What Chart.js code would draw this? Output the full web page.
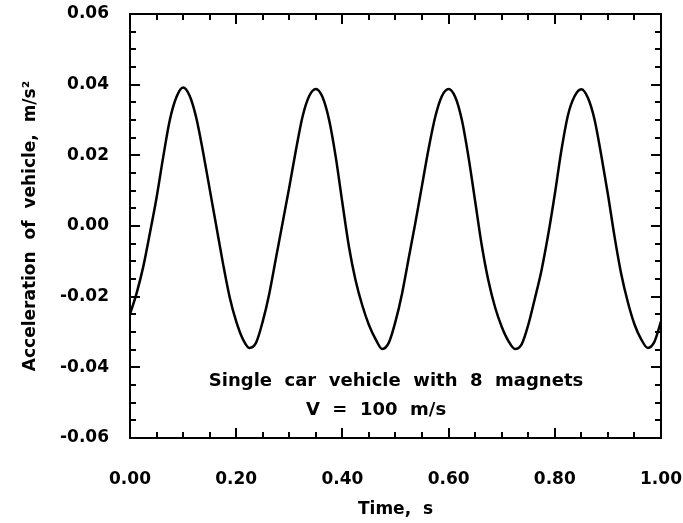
<!DOCTYPE html>
<html>
<head>
<meta charset="utf-8">
<title>Acceleration of vehicle</title>
<script src="https://cdn.jsdelivr.net/npm/chart.js@4/dist/chart.umd.min.js"></script>
<style>
    html, body { margin: 0; padding: 0; background: #fff; }
    canvas { display: block; }
</style>
</head>
<body>
<canvas id="chart" width="683" height="523"></canvas>
<script>
// time, s
var times = [
    0, 0.0125, 0.025, 0.0375, 0.05, 0.0625, 0.075, 0.0875, 0.1, 0.1125,
    0.125, 0.1375, 0.15, 0.1625, 0.175, 0.1875, 0.2, 0.2125, 0.225, 0.2375,
    0.25, 0.2625, 0.275, 0.2875, 0.3, 0.3125, 0.325, 0.3375, 0.35, 0.3625,
    0.375, 0.3875, 0.4, 0.4125, 0.425, 0.4375, 0.45, 0.4625, 0.475, 0.4875,
    0.5, 0.5125, 0.525, 0.5375, 0.55, 0.5625, 0.575, 0.5875, 0.6, 0.6125,
    0.625, 0.6375, 0.65, 0.6625, 0.675, 0.6875, 0.7, 0.7125, 0.725, 0.7375,
    0.75, 0.7625, 0.775, 0.7875, 0.8, 0.8125, 0.825, 0.8375, 0.85, 0.8625,
    0.875, 0.8875, 0.9, 0.9125, 0.925, 0.9375, 0.95, 0.9625, 0.975, 0.9875,
    1.0
];

// acceleration of vehicle, m/s^2
var accel = [
    -0.025, -0.019, -0.0115, -0.002, 0.008, 0.0195, 0.030, 0.0365, 0.0392, 0.0368,
    0.0305, 0.021, 0.0105, 0.000, -0.0105, -0.020, -0.027, -0.032, -0.0345, -0.033,
    -0.027, -0.019, -0.009, 0.001, 0.011, 0.0215, 0.031, 0.0368, 0.0388, 0.0365,
    0.030, 0.0195, 0.0065, -0.006, -0.0155, -0.0225, -0.028, -0.032, -0.0348, -0.033,
    -0.027, -0.019, -0.009, 0.001, 0.0115, 0.022, 0.031, 0.0368, 0.0388, 0.0365,
    0.030, 0.0195, 0.007, -0.0055, -0.0155, -0.023, -0.0285, -0.0325, -0.0348, -0.0335,
    -0.028, -0.0205, -0.0125, -0.0025, 0.009, 0.0215, 0.0315, 0.0368, 0.0387, 0.0362,
    0.030, 0.020, 0.009, -0.003, -0.0135, -0.0215, -0.0278, -0.032, -0.0345, -0.0328,
    -0.027
];

var xTicks = [0, 0.2, 0.4, 0.6, 0.8, 1.0];
var yTicks = [-0.06, -0.04, -0.02, 0, 0.02, 0.04, 0.06];
var xMinorStep = 0.05;
var yMinorStep = 0.005;

var noteLines = ['Single  car  vehicle  with  8  magnets', 'V  =  100  m/s'];

var points = times.map(function (t, i) {
    return {x: t, y: accel[i]};
});

var boldFont = 'DejaVu Sans';

//边框、刻度、注释
var framePlugin = {
    id: 'frame',
    afterDraw: function (chart) {
        var ctx = chart.ctx;
        var a = chart.chartArea;
        var xs = chart.scales.x;
        var ys = chart.scales.y;
        var v, px, py, len;

        ctx.save();
        ctx.strokeStyle = '#000';
        ctx.lineWidth = 2;
        ctx.strokeRect(a.left, a.top, a.right - a.left, a.bottom - a.top);

        // x ticks, top and bottom, pointing inward
        for (v = 0; v <= 1.0001; v += xMinorStep) {
            px = Math.round(xs.getPixelForValue(v));
            len = Math.abs(v / 0.2 - Math.round(v / 0.2)) < 1e-6 ? 10 : 6;
            ctx.beginPath();
            ctx.moveTo(px, a.bottom);
            ctx.lineTo(px, a.bottom - len);
            ctx.moveTo(px, a.top);
            ctx.lineTo(px, a.top + len);
            ctx.stroke();
        }

        // y ticks, left and right
        for (v = -0.06; v <= 0.0601; v += yMinorStep) {
            py = Math.round(ys.getPixelForValue(v));
            len = Math.abs(v / 0.02 - Math.round(v / 0.02)) < 1e-6 ? 10 : 6;
            ctx.beginPath();
            ctx.moveTo(a.left, py);
            ctx.lineTo(a.left + len, py);
            ctx.moveTo(a.right, py);
            ctx.lineTo(a.right - len, py);
            ctx.stroke();
        }

        ctx.fillStyle = '#000';
        ctx.font = 'bold 18px "' + boldFont + '"';
        ctx.textBaseline = 'alphabetic';
        ctx.textAlign = 'center';
        ctx.fillText(noteLines[0], 396, 386);
        ctx.fillText(noteLines[1], 376, 415);
        ctx.restore();
    }
};

// 去掉刻度标签带来的额外边距
function noPadding(scale) {
    scale.paddingLeft = 0;
    scale.paddingRight = 0;
    scale.paddingTop = 0;
    scale.paddingBottom = 0;
}

var ctx = document.getElementById('chart').getContext('2d');

window.myChart = new Chart(ctx, {
    type: 'line',
    data: {
        datasets: [{
            data: points,
            borderColor: '#000',
            borderWidth: 2.5,
            pointRadius: 0,
            fill: false,
            cubicInterpolationMode: 'monotone'
        }]
    },
    options: {
        responsive: false,
        animation: false,
        events: [],
        layout: {
            padding: {left: 0, top: 14, right: 22, bottom: 0}
        },
        plugins: {
            legend: {display: false},
            tooltip: {enabled: false},
            title: {display: false}
        },
        scales: {
            x: {
                type: 'linear',
                min: 0,
                max: 1,
                afterBuildTicks: function (scale) {
                    scale.ticks = xTicks.map(function (v) { return {value: v}; });
                },
                afterFit: function (scale) {
                    scale.height = 85;
                    noPadding(scale);
                },
                grid: {display: false, drawTicks: false},
                border: {display: false},
                ticks: {
                    color: '#000',
                    padding: 31,
                    maxRotation: 0,
                    font: {family: boldFont, size: 17, weight: 'bold'},
                    callback: function (v) { return v.toFixed(2); }
                },
                title: {
                    display: true,
                    text: 'Time,  s',
                    color: '#000',
                    padding: {top: 0, bottom: 3},
                    font: {family: boldFont, size: 17, weight: 'bold'}
                }
            },
            y: {
                type: 'linear',
                min: -0.06,
                max: 0.06,
                afterBuildTicks: function (scale) {
                    scale.ticks = yTicks.map(function (v) { return {value: v}; });
                },
                afterFit: function (scale) {
                    scale.width = 130;
                    noPadding(scale);
                },
                grid: {display: false, drawTicks: false},
                border: {display: false},
                ticks: {
                    color: '#000',
                    padding: 21,
                    font: {family: boldFont, size: 17, weight: 'bold'},
                    callback: function (v) { return v.toFixed(2); }
                },
                title: {
                    display: true,
                    text: 'Acceleration  of  vehicle,  m/s\u00b2',
                    color: '#000',
                    padding: {top: 20, bottom: 0},
                    font: {family: boldFont, size: 17, weight: 'bold'}
                }
            }
        }
    },
    plugins: [framePlugin]
});
</script>
</body>
</html>
